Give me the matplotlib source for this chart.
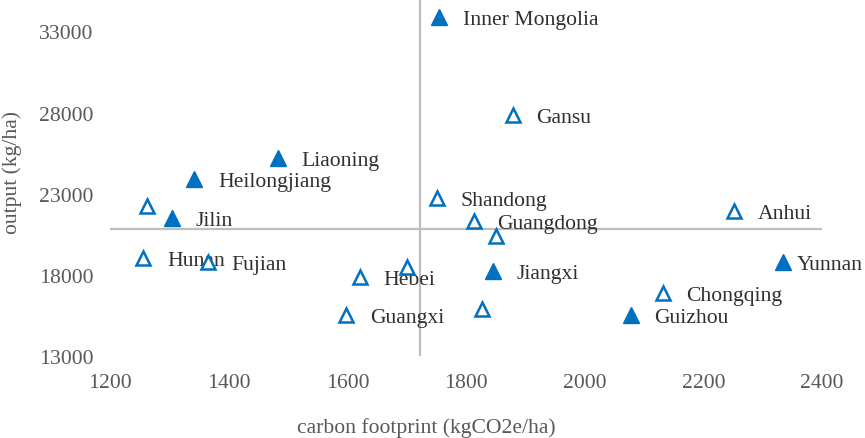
import matplotlib.pyplot as plt

plt.rcParams['font.family'] = ['Liberation Serif', 'DejaVu Serif']

# provinces: carbon footprint (kgCO2e/ha), output (kg/ha)
names = ["Inner Mongolia", "Gansu", "Liaoning", "Heilongjiang", "", "Jilin",
         "Hunan", "Fujian", "Shandong", "Guangdong", "", "Hebei", "",
         "Jiangxi", "Guangxi", "", "Anhui", "Yunnan", "Chongqing", "Guizhou"]
footprint = [1755, 1879, 1483, 1342, 1262, 1304, 1256, 1365, 1751, 1813, 1851,
             1621, 1700, 1846, 1598, 1827, 2252, 2334, 2132, 2078]
output = [33860, 27830, 25190, 23890, 22230, 21490, 19030, 18790, 22720, 21310,
          20390, 17860, 18480, 18230, 15520, 15890, 21920, 18790, 16880, 15520]
filled = [True, False, True, True, False, True, False, False, False, False,
          False, False, False, True, False, False, False, True, False, True]

# axis crossing (means)
x_cross = 1722
y_cross = 20815

blue = "#0070C0"
grey_line = "#BFBFBF"

fig = plt.figure(figsize=(8.65, 4.39), dpi=100)
ax = fig.add_axes([0.1272, 0.1868, 0.8231, 0.8132])

ax.axvline(x_cross, color=grey_line, lw=1.6, zorder=1)
ax.axhline(y_cross, color=grey_line, lw=1.6, zorder=1)

for x, y, f, n in zip(footprint, output, filled, names):
    if f:
        ax.plot(x, y, marker='^', ms=11, color=blue, mec=blue, ls='none', zorder=3)
    else:
        ax.plot(x, y, marker='^', ms=10, mfc='white', mec=blue, mew=1.8, ls='none', zorder=3)
    if n:
        dx = 10 if n == "Yunnan" else 17
        ax.annotate(n, (x, y), xytext=(dx, -1.5), textcoords='offset points',
                    va='center', ha='left', fontsize=15.6, color='#303030')

ax.set_xlim(1200, 2400)
ax.set_ylim(13000, 35000)
ax.set_xticks(range(1200, 2401, 200))
ax.set_yticks(range(13000, 33001, 5000))
for s in ax.spines.values():
    s.set_visible(False)
ax.tick_params(length=0, labelsize=15.6, labelcolor='#595959', pad=12)

fig.text(0.493, 0.025, "carbon footprint (kgCO2e/ha)", fontsize=15.6,
         color='#595959', ha='center', va='center')
fig.text(0.0139, 0.606, "output (kg/ha)", fontsize=15.6, color='#595959',
         ha='center', va='center', rotation=90)

fig.savefig("out.png", dpi=100)
